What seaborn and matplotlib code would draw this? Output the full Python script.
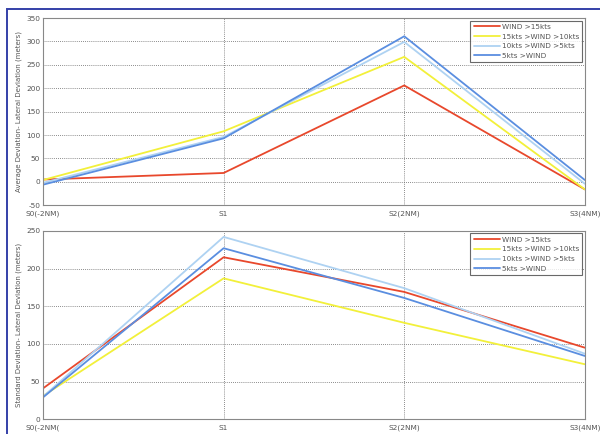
import matplotlib
matplotlib.use("Agg")
import matplotlib.pyplot as plt
import seaborn as sns
import pandas as pd
from matplotlib.patches import Rectangle

# Stations along the approach path
stations = [0, 1, 2, 3]
station_labels_top = ["S0(-2NM)", "S1", "S2(2NM)", "S3(4NM)"]
station_labels_bottom = ["S0(-2NM(", "S1", "S2(2NM)", "S3(4NM)"]

# Wind categories
wind_classes = ["WIND >15kts", "15kts >WIND >10kts", "10kts >WIND >5kts", "5kts >WIND"]
wind_colors = ["#e8482c", "#f2f03a", "#aed2f2", "#5a8ee0"]

# Average lateral deviation (meters)
avg_wind_gt15 = [5, 19, 206, -16]
avg_wind_15_10 = [4, 108, 267, -16]
avg_wind_10_5 = [-2, 96, 299, -4]
avg_wind_lt5 = [-6, 93, 311, 4]

# Standard deviation of lateral deviation (meters)
std_wind_gt15 = [41, 215, 169, 95]
std_wind_15_10 = [31, 187, 128, 73]
std_wind_10_5 = [30, 242, 174, 87]
std_wind_lt5 = [29, 227, 161, 84]


def long_frame(series):
    rows = []
    for name, vals in zip(wind_classes, series):
        for s, v in zip(stations, vals):
            rows.append({"station": s, "value": v, "wind": name})
    return pd.DataFrame(rows)


avg_df = long_frame([avg_wind_gt15, avg_wind_15_10, avg_wind_10_5, avg_wind_lt5])
std_df = long_frame([std_wind_gt15, std_wind_15_10, std_wind_10_5, std_wind_lt5])

sns.set_theme(style="white")
plt.rcParams["font.family"] = ["DejaVu Sans"]

fig = plt.figure(figsize=(6.0, 4.34), dpi=100)
ax1 = fig.add_axes([0.0717, 0.527, 0.903, 0.4315])
ax2 = fig.add_axes([0.0717, 0.034, 0.903, 0.434])

palette = dict(zip(wind_classes, wind_colors))
text_color = "#555555"


def style_axis(ax, labels, ylim, yticks, ylabel):
    ax.set_xlim(0, 3)
    ax.set_ylim(*ylim)
    ax.set_xticks(stations)
    ax.set_xticklabels(labels, fontsize=5.3, color=text_color)
    ax.set_yticks(yticks)
    ax.set_yticklabels([str(t) for t in yticks], fontsize=5.3, color=text_color)
    ax.set_xlabel("")
    ax.set_ylabel(ylabel, fontsize=5, color=text_color, labelpad=3)
    ax.grid(True, linestyle=(0, (1, 1.5)), color="#666666", linewidth=0.6)
    ax.tick_params(axis="both", direction="in", length=3, color="#777777")
    ax.tick_params(axis="x", pad=4)
    ax.tick_params(axis="y", pad=2)
    for sp in ax.spines.values():
        sp.set_color("#888888")
        sp.set_linewidth(0.8)
    leg = ax.legend(loc="upper right", fontsize=5.2, frameon=True, fancybox=False,
                    borderpad=0.45, labelspacing=0.5, handlelength=3.6,
                    handletextpad=0.3, borderaxespad=0.35)
    leg.get_frame().set_edgecolor("#444444")
    leg.get_frame().set_linewidth(0.8)
    for t in leg.get_texts():
        t.set_color(text_color)


sns.lineplot(data=avg_df, x="station", y="value", hue="wind", palette=palette,
             hue_order=wind_classes, linewidth=1.3, ax=ax1)
style_axis(ax1, station_labels_top, (-50, 350), list(range(-50, 351, 50)),
           "Average Deviation- Lateral Deviation (meters)")

sns.lineplot(data=std_df, x="station", y="value", hue="wind", palette=palette,
             hue_order=wind_classes, linewidth=1.3, ax=ax2)
style_axis(ax2, station_labels_bottom, (0, 250), list(range(0, 251, 50)),
           "Standard Deviation- Lateral Deviation (meters)")

# Frame around the figure
fig.patches.append(Rectangle((0.012, -0.05), 1.1, 1.03, transform=fig.transFigure,
                             fill=False, edgecolor="#3440a8", linewidth=1.4))

fig.savefig("out.png", dpi=100)
